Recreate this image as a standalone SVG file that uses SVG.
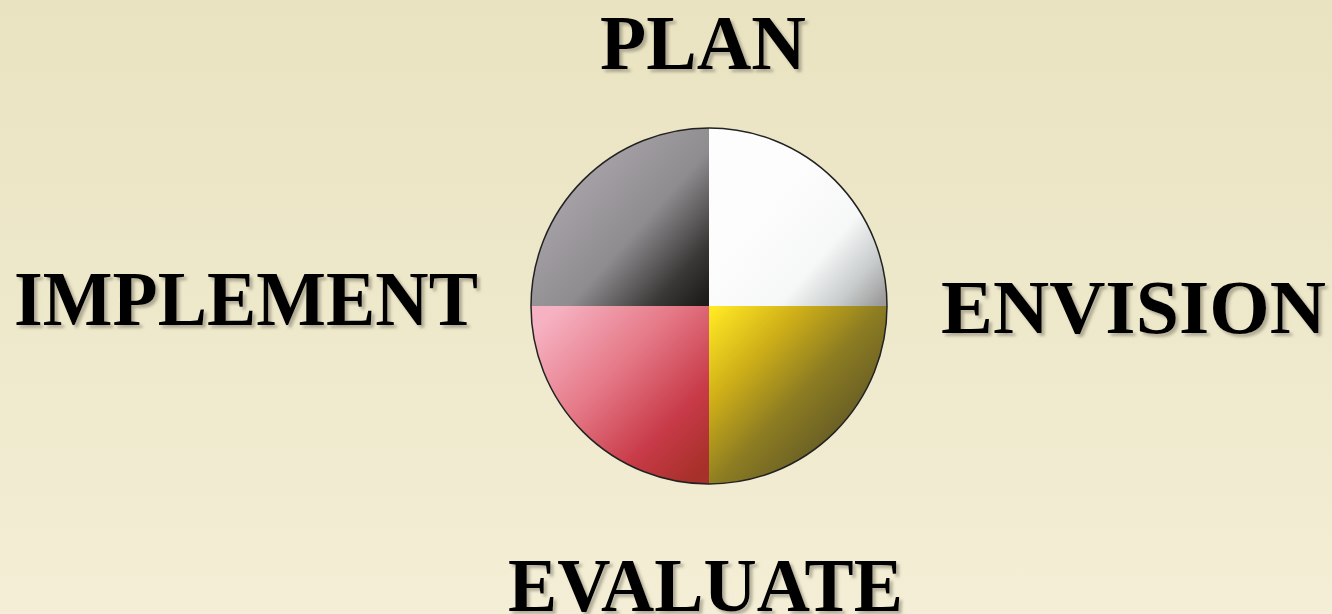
<svg xmlns="http://www.w3.org/2000/svg" width="1332" height="614" viewBox="0 0 1332 614">
<defs>
<linearGradient id="bg" x1="0" y1="0" x2="0" y2="1">
<stop offset="0" stop-color="#e9e3c1"/>
<stop offset="1" stop-color="#f3eed5"/>
</linearGradient>
<linearGradient id="gTL" gradientUnits="userSpaceOnUse" x1="560" y1="170" x2="705" y2="300">
<stop offset="0" stop-color="#aba7ac"/>
<stop offset="0.5" stop-color="#8f8c90"/>
<stop offset="0.82" stop-color="#3a3836"/>
<stop offset="1" stop-color="#1e1c1a"/>
</linearGradient>
<linearGradient id="gTR" gradientUnits="userSpaceOnUse" x1="770" y1="200" x2="885" y2="300">
<stop offset="0" stop-color="#fdfdfd"/>
<stop offset="0.5" stop-color="#f6f7f7"/>
<stop offset="0.78" stop-color="#c8cccc"/>
<stop offset="1" stop-color="#9c9a9a"/>
</linearGradient>
<linearGradient id="gBR" gradientUnits="userSpaceOnUse" x1="712" y1="310" x2="860" y2="450">
<stop offset="0" stop-color="#ffe824"/>
<stop offset="0.3" stop-color="#d0b018"/>
<stop offset="0.6" stop-color="#8c7c22"/>
<stop offset="1" stop-color="#575026"/>
</linearGradient>
<linearGradient id="gBL" gradientUnits="userSpaceOnUse" x1="545" y1="320" x2="700" y2="470">
<stop offset="0" stop-color="#f6b2c2"/>
<stop offset="0.4" stop-color="#e57886"/>
<stop offset="0.75" stop-color="#c83a48"/>
<stop offset="1" stop-color="#a8302a"/>
</linearGradient>
<filter id="sh" x="-10%" y="-20%" width="120%" height="150%">
<feDropShadow dx="3" dy="3" stdDeviation="1.6" flood-color="#7d7866" flood-opacity="0.55"/>
</filter>
</defs>
<style>
.lbl{font-family:"Liberation Serif","Times New Roman",serif;font-weight:bold;fill:#000;filter:url(#sh)}
.q{stroke:none}
</style>
<rect width="1332" height="614" fill="url(#bg)"/>
<g id="wheel">
<path class="q" d="M709,306 L531,306 A178,178 0 0 1 709,128 Z" fill="url(#gTL)"/>
<path class="q" d="M709,306 L709,128 A178,178 0 0 1 887,306 Z" fill="url(#gTR)"/>
<path class="q" d="M709,306 L887,306 A178,178 0 0 1 709,484 Z" fill="url(#gBR)"/>
<path class="q" d="M709,306 L709,484 A178,178 0 0 1 531,306 Z" fill="url(#gBL)"/>
<circle cx="709" cy="306" r="178" fill="none" stroke="#222" stroke-width="1.5"/>
</g>
<g id="connectors"/>
<g id="plan"><text class="lbl" x="600" y="69" font-size="79" textLength="206" lengthAdjust="spacingAndGlyphs">PLAN</text></g>
<g id="implement"><text class="lbl" x="14" y="325" font-size="78" textLength="464" lengthAdjust="spacingAndGlyphs">IMPLEMENT</text></g>
<g id="envision"><text class="lbl" x="941" y="333" font-size="76" textLength="385" lengthAdjust="spacingAndGlyphs">ENVISION</text></g>
<g id="evaluate"><text class="lbl" x="508" y="611" font-size="77" textLength="395" lengthAdjust="spacingAndGlyphs">EVALUATE</text></g>
</svg>
